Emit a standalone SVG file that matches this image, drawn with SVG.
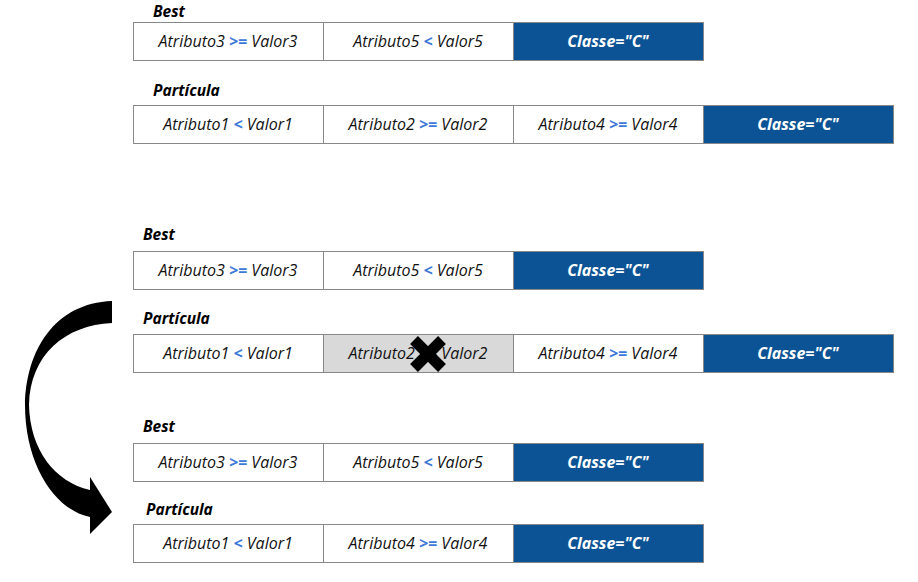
<svg xmlns="http://www.w3.org/2000/svg" width="918" height="582" viewBox="0 0 918 582">
<style>
.c{fill:#fff;stroke:#888;stroke-width:1}
.g{fill:#d9d9d9;stroke:#888;stroke-width:1}
.k{fill:#0b5394;stroke:#888;stroke-width:1}
.t{font-family:"Open Sans","Noto Sans",sans-serif;font-style:italic;font-size:16px;fill:#111;text-anchor:middle}
.op{fill:#3c78d8;font-weight:bold}
.w{fill:#fff;font-weight:bold}
.lb{font-family:"Open Sans","Noto Sans",sans-serif;font-style:italic;font-weight:bold;font-size:15.5px;fill:#000}
</style>
<rect width="918" height="582" fill="#fff"/>

<g id="best1">
<text class="lb" x="153" y="17">Best</text>
<rect class="c" x="133.5" y="22.5" width="190" height="38"/>
<rect class="c" x="323.5" y="22.5" width="190" height="38"/>
<rect class="k" x="513.5" y="22.5" width="190" height="38"/>
<text class="t" x="228" y="47">Atributo3 <tspan class="op">&gt;=</tspan> Valor3</text>
<text class="t" x="418" y="47">Atributo5 <tspan class="op">&lt;</tspan> Valor5</text>
<text class="t w" x="608" y="47">Classe=&quot;C&quot;</text>
</g>

<g id="particula1">
<text class="lb" x="153" y="96">Partícula</text>
<rect class="c" x="133.5" y="105.5" width="190" height="38"/>
<rect class="c" x="323.5" y="105.5" width="190" height="38"/>
<rect class="c" x="513.5" y="105.5" width="190" height="38"/>
<rect class="k" x="703.5" y="105.5" width="190" height="38"/>
<text class="t" x="228" y="130">Atributo1 <tspan class="op">&lt;</tspan> Valor1</text>
<text class="t" x="418" y="130">Atributo2 <tspan class="op">&gt;=</tspan> Valor2</text>
<text class="t" x="608" y="130">Atributo4 <tspan class="op">&gt;=</tspan> Valor4</text>
<text class="t w" x="798" y="130">Classe=&quot;C&quot;</text>
</g>

<g id="best2">
<text class="lb" x="143" y="240">Best</text>
<rect class="c" x="133.5" y="251.5" width="190" height="38"/>
<rect class="c" x="323.5" y="251.5" width="190" height="38"/>
<rect class="k" x="513.5" y="251.5" width="190" height="38"/>
<text class="t" x="228" y="276">Atributo3 <tspan class="op">&gt;=</tspan> Valor3</text>
<text class="t" x="418" y="276">Atributo5 <tspan class="op">&lt;</tspan> Valor5</text>
<text class="t w" x="608" y="276">Classe=&quot;C&quot;</text>
</g>

<g id="particula2">
<text class="lb" x="143" y="324">Partícula</text>
<rect class="c" x="133.5" y="334.5" width="190" height="38"/>
<rect class="g" x="323.5" y="334.5" width="190" height="38"/>
<rect class="c" x="513.5" y="334.5" width="190" height="38"/>
<rect class="k" x="703.5" y="334.5" width="190" height="38"/>
<text class="t" x="228" y="359">Atributo1 <tspan class="op">&lt;</tspan> Valor1</text>
<text class="t" x="418" y="359">Atributo2 <tspan class="op">&gt;=</tspan> Valor2</text>
<text class="t" x="608" y="359">Atributo4 <tspan class="op">&gt;=</tspan> Valor4</text>
<text class="t w" x="798" y="359">Classe=&quot;C&quot;</text>
<g id="cross" stroke="#000" stroke-width="11">
<line x1="414" y1="340" x2="442" y2="368"/>
<line x1="442" y1="340" x2="414" y2="368"/>
</g>
</g>

<g id="best3">
<text class="lb" x="143" y="432">Best</text>
<rect class="c" x="133.5" y="443.5" width="190" height="38"/>
<rect class="c" x="323.5" y="443.5" width="190" height="38"/>
<rect class="k" x="513.5" y="443.5" width="190" height="38"/>
<text class="t" x="228" y="468">Atributo3 <tspan class="op">&gt;=</tspan> Valor3</text>
<text class="t" x="418" y="468">Atributo5 <tspan class="op">&lt;</tspan> Valor5</text>
<text class="t w" x="608" y="468">Classe=&quot;C&quot;</text>
</g>

<g id="particula3">
<text class="lb" x="146" y="515">Partícula</text>
<rect class="c" x="133.5" y="524.5" width="190" height="38"/>
<rect class="c" x="323.5" y="524.5" width="190" height="38"/>
<rect class="k" x="513.5" y="524.5" width="190" height="38"/>
<text class="t" x="228" y="549">Atributo1 <tspan class="op">&lt;</tspan> Valor1</text>
<text class="t" x="418" y="549">Atributo4 <tspan class="op">&gt;=</tspan> Valor4</text>
<text class="t w" x="608" y="549">Classe=&quot;C&quot;</text>
</g>

<g id="connectors">
<path d="M112,301 C55,303 26,350 25,405 C25,465 55,510 90,517 L90,534 L112,512 L90,477 L90,490 C55,482 30,450 29,405 C30,355 65,325 112,323 Z" fill="#000"/>
</g>
</svg>
